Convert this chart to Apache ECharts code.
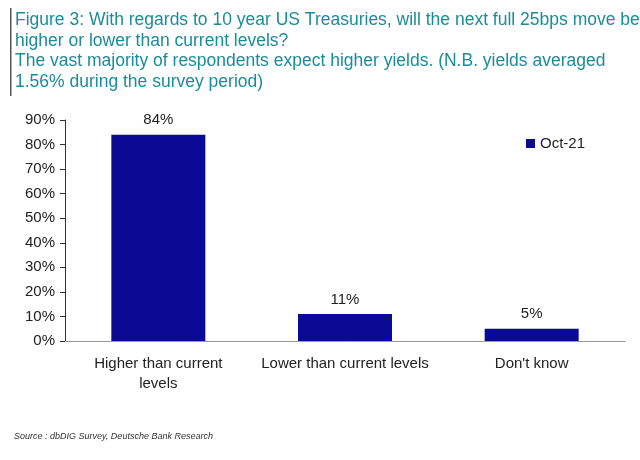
<!DOCTYPE html>
<html><head><meta charset="utf-8">
<script src="https://cdn.jsdelivr.net/npm/echarts@6/dist/echarts.min.js"></script>
<style>body{margin:0;background:#fff}#c{width:640px;height:460px}</style></head>
<body><div id="c"></div>
<script>
const categories = ["Higher than current\nlevels", "Lower than current levels", "Don't know"];
const values = [84, 11, 5];
const seriesName = "Oct-21";
const chart = echarts.init(document.getElementById('c'));
chart.setOption({
  animation:false,
  graphic:[
    {type:'rect',shape:{x:10,y:8,width:1.5,height:88},style:{fill:'#555'}},
    {type:'text',left:15,top:10,style:{text:"Figure 3: With regards to 10 year US Treasuries, will the next full 25bps move be\nhigher or lower than current levels?\nThe vast majority of respondents expect higher yields. (N.B. yields averaged\n1.56% during the survey period)",fill:'#1a8c9a',font:'17.5px "Liberation Sans", Arial',lineHeight:20.5}},
    {type:'text',left:14,top:432,style:{text:"Source : dbDIG Survey, Deutsche Bank Research",fill:'#333',font:'italic 9px "Liberation Sans", Arial'}}
  ],
  legend:{right:50,top:131,itemWidth:9,itemHeight:9,icon:'rect',textStyle:{fontSize:15,color:'#222',fontFamily:'Liberation Sans'}},
  grid:{left:65,right:15,top:120,bottom:119},
  xAxis:{type:'category',data:categories,axisTick:{show:false},axisLine:{lineStyle:{color:'#999'}},
    axisLabel:{fontSize:15,color:'#222',fontFamily:'Liberation Sans',margin:13,lineHeight:20,interval:0}},
  yAxis:{type:'value',min:0,max:90,interval:10,splitLine:{show:false},
    axisLine:{show:true,lineStyle:{color:'#333'}},axisTick:{show:true,length:5,lineStyle:{color:'#333'}},
    axisLabel:{formatter:'{value}%',fontSize:15,color:'#222',fontFamily:'Liberation Sans',margin:10}},
  series:[{name:seriesName,type:'bar',data:values,barWidth:94,itemStyle:{color:'#0a0a94'},
    label:{show:true,position:'top',formatter:'{c}%',fontSize:15,color:'#222',fontFamily:'Liberation Sans',distance:7}}]
});
</script></body></html>
